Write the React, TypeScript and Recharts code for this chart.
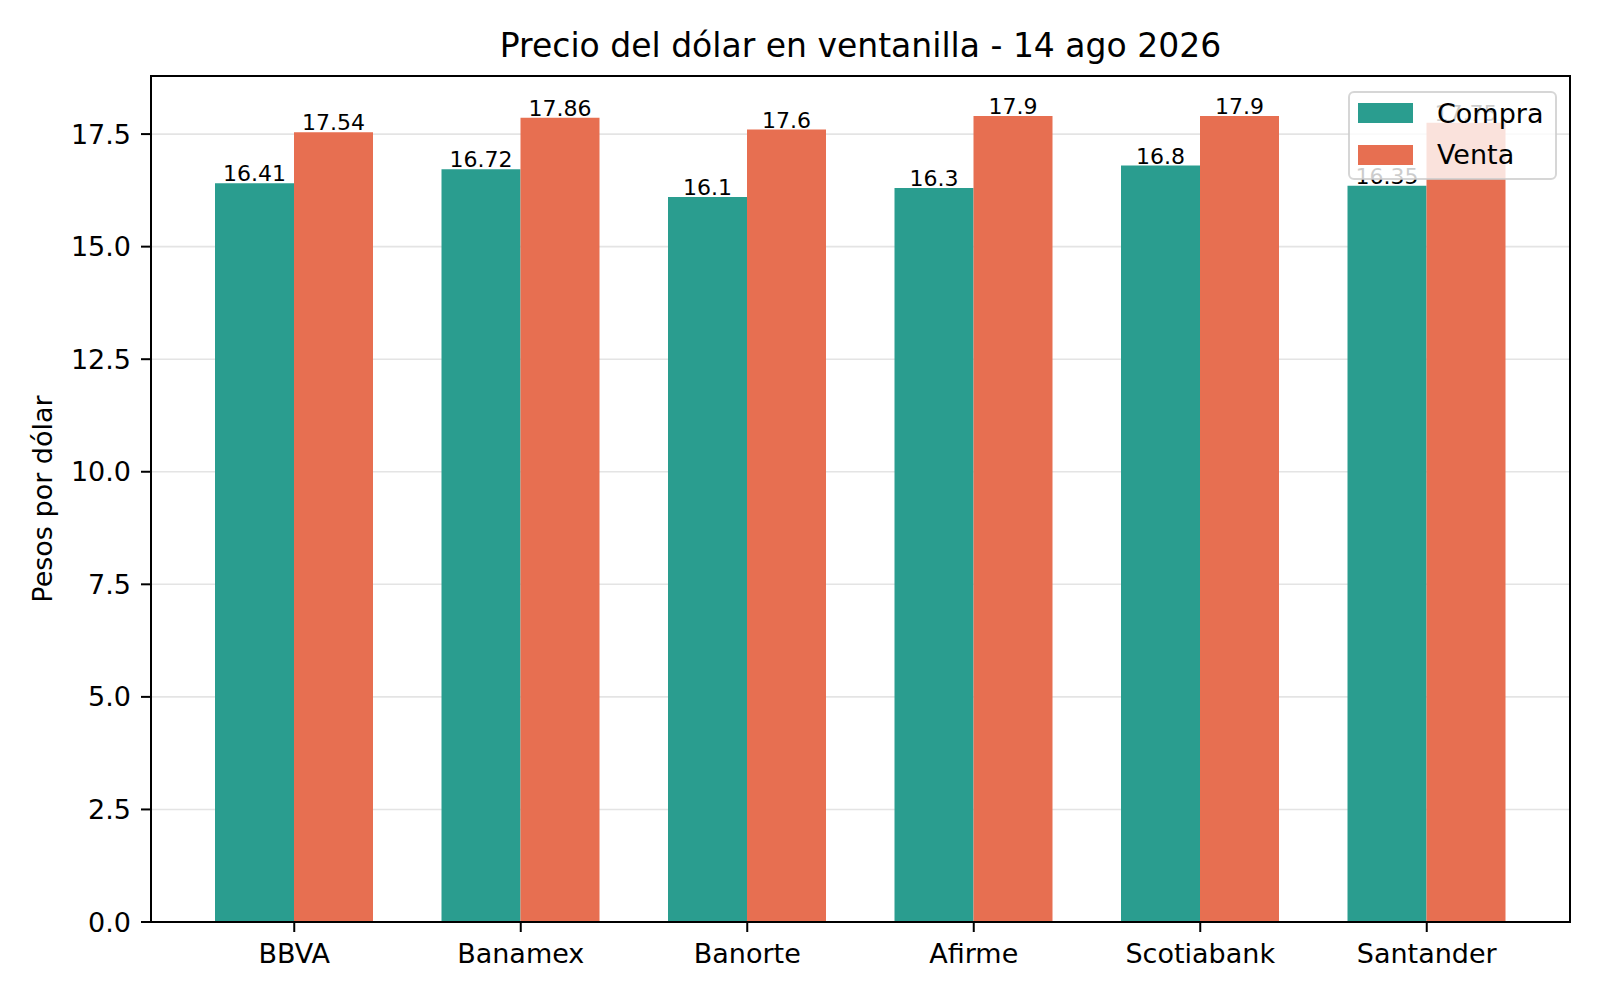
import { BarChart, Bar, XAxis, YAxis, CartesianGrid, Legend, LabelList, Label } from 'recharts';

const banks = ['BBVA', 'Banamex', 'Banorte', 'Afirme', 'Scotiabank', 'Santander'];
const compra = [16.41, 16.72, 16.1, 16.3, 16.8, 16.35];
const venta = [17.54, 17.86, 17.6, 17.9, 17.9, 17.75];
const yTicks = [0, 2.5, 5, 7.5, 10, 12.5, 15, 17.5];

const chartData = banks.map((name, i) => ({ name, compra: compra[i], venta: venta[i] }));

const FONT = '"DejaVu Sans", sans-serif';
const TEAL = '#2a9d8f';
const ORANGE = '#e76f51';

function LegendBox({ payload }: any) {
  const items = payload || [];
  return (
    <svg width={209} height={89} style={{ display: 'block', fontFamily: FONT }}>
      <rect x={1} y={1} width={207} height={87} rx={5} fill="#fff" fillOpacity={0.8} stroke="#ccc" strokeOpacity={0.8} strokeWidth={2} />
      {items.map((item: any, i: number) => (
        <g key={item.value}>
          <rect x={10} y={12 + i * 42} width={55} height={20} fill={item.color} />
          <text x={89} y={31.5 + i * 41} fontSize={27} fill="#000">{item.value}</text>
        </g>
      ))}
    </svg>
  );
}

// title plus the top and right spines of the axes frame
function TitleAndFrame() {
  return (
    <g>
      <text x={860.5} y={57} textAnchor="middle" fontSize={33} fill="#000" fontFamily={FONT}>
        Precio del dólar en ventanilla - 14 ago 2026
      </text>
      <path d="M150 76 H1570 V923" fill="none" stroke="#000" strokeWidth={2} />
    </g>
  );
}

export default function App() {
  return (
    <div style={{ position: 'absolute', left: 0, top: 0, width: 1600, height: 1000, background: '#fff', fontFamily: FONT }}>
      <BarChart
        width={1600}
        height={1000}
        data={chartData}
        margin={{ top: 76, right: 30, bottom: 0, left: 0 }}
        barCategoryGap={34}
        barGap={0}
      >
        <CartesianGrid vertical={false} stroke="#e4e4e4" strokeWidth={1.6} />
        <XAxis
          dataKey="name"
          height={78}
          padding={{ left: 30, right: 30 }}
          axisLine={{ stroke: '#000', strokeWidth: 2 }}
          tickLine={{ stroke: '#000', strokeWidth: 2 }}
          tickSize={10}
          tickMargin={12}
          tick={{ fill: '#000', fontSize: 27, fontFamily: FONT }}
        >
          <Label content={() => <TitleAndFrame />} />
        </XAxis>
        <YAxis
          width={151}
          domain={[0, 18.79]}
          ticks={yTicks}
          interval={0}
          tickFormatter={(v: number) => v.toFixed(1)}
          axisLine={{ stroke: '#000', strokeWidth: 2 }}
          tickLine={{ stroke: '#000', strokeWidth: 2 }}
          tickSize={10}
          tickMargin={10}
          tick={{ fill: '#000', fontSize: 27, fontFamily: FONT }}
        >
          <Label
            content={() => (
              <text x={42} y={499} transform="rotate(-90, 42, 499)" textAnchor="middle" dy={9.5} fontSize={27} fill="#000" fontFamily={FONT}>
                Pesos por dólar
              </text>
            )}
          />
        </YAxis>
        <Bar dataKey="compra" name="Compra" fill={TEAL} isAnimationActive={false}>
          <LabelList dataKey="compra" position="top" offset={2} fill="#000" fontSize={22} fontFamily={FONT} />
        </Bar>
        <Bar dataKey="venta" name="Venta" fill={ORANGE} isAnimationActive={false}>
          <LabelList dataKey="venta" position="top" offset={2} fill="#000" fontSize={22} fontFamily={FONT} />
        </Bar>
        <Legend
          layout="vertical"
          align="center"
          verticalAlign="middle"
          content={<LegendBox />}
          wrapperStyle={{ left: 1348, top: 91, width: 209, height: 89 }}
        />
      </BarChart>
    </div>
  );
}
